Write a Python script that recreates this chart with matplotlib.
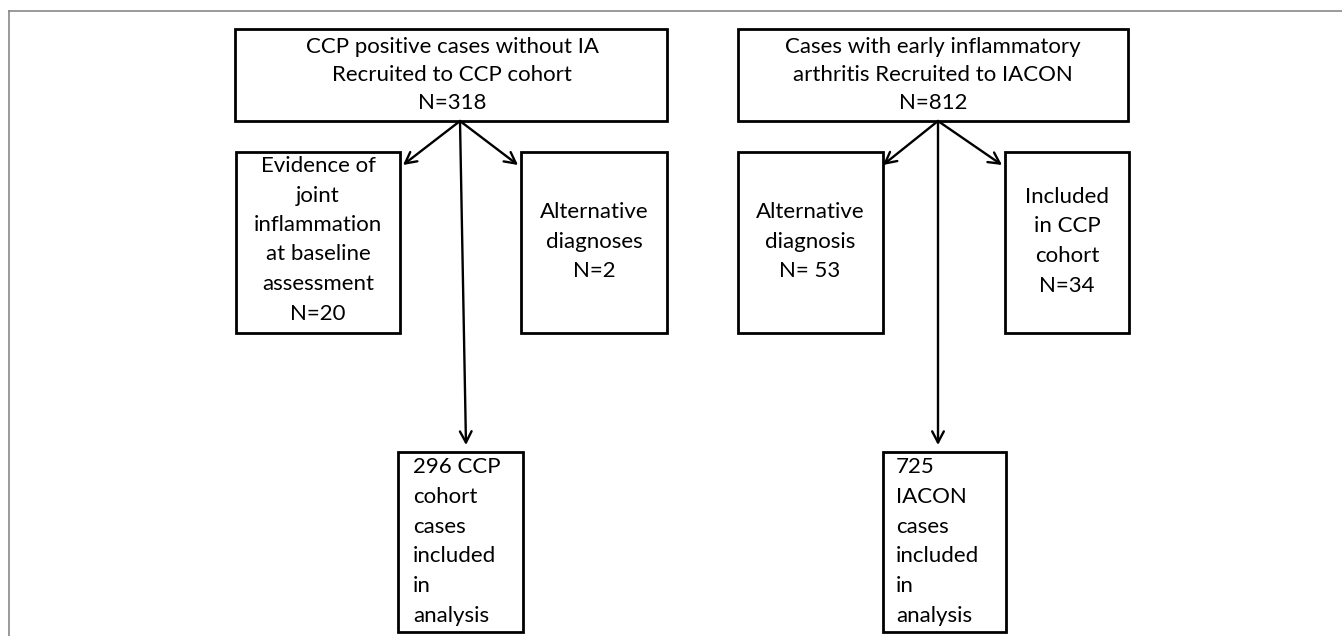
import matplotlib.pyplot as plt
from matplotlib.patches import Rectangle

# box texts
top_left = ["CCP positive cases without IA", "Recruited to CCP cohort", "N=318"]
top_right = ["Cases with early inflammatory", "arthritis Recruited to IACON", "N=812"]
side_left_a = ["Evidence of", "joint", "inflammation", "at baseline", "assessment", "N=20"]
side_left_b = ["Alternative", "diagnoses", "N=2"]
side_right_a = ["Alternative", "diagnosis", "N= 53"]
side_right_b = ["Included", "in CCP", "cohort", "N=34"]
final_left = ["296 CCP", "cohort", "cases", "included", "in", "analysis"]
final_right = ["725", "IACON", "cases", "included", "in", "analysis"]

W, H = 1342, 636
FS = 16
FONT = ["Lato", "DejaVu Sans"]

fig = plt.figure(figsize=(W / 100, H / 100), dpi=100)
ax = fig.add_axes([0, 0, 1, 1])
ax.set_xlim(0, W)
ax.set_ylim(H, 0)
ax.axis('off')

# outer frame of the figure panel
ax.plot([9, W], [11, 11], color='#7f7f7f', lw=1.1)
ax.plot([9, 9], [11, H], color='#7f7f7f', lw=1.1)


def box(x0, y0, x1, y1):
    ax.add_patch(Rectangle((x0, y0), x1 - x0, y1 - y0, fill=False,
                           edgecolor='black', lw=2.0))


def centre_text(lines, cx, y0, step=29.5):
    for i, s in enumerate(lines):
        ax.text(cx, y0 + i * step, s, ha='center', va='center',
                fontsize=FS, family=FONT)


def left_text(lines, x, y0, step=29.8):
    for i, s in enumerate(lines):
        ax.text(x, y0 + i * step, s, ha='left', va='center',
                fontsize=FS, family=FONT)


def arrow(x0, y0, x1, y1):
    ax.annotate('', xy=(x1, y1), xytext=(x0, y0),
                arrowprops=dict(arrowstyle='->,head_length=0.8,head_width=0.42',
                                lw=1.7, color='black', shrinkA=0, shrinkB=0))


# left column
box(235, 29, 667, 121)
centre_text(top_left, 452, 47, 28)
box(236, 152, 400, 333)
centre_text(side_left_a, 318, 166)
box(521, 152, 667, 333)
centre_text(side_left_b, 594, 212)
box(398, 452, 523, 632)
left_text(final_left, 413, 467)
arrow(460, 121, 403, 165)
arrow(460, 121, 518, 165)
arrow(460, 121, 466, 445)

# right column
box(738, 29, 1128, 121)
centre_text(top_right, 933, 47, 28)
box(738, 152, 883, 333)
centre_text(side_right_a, 810, 212)
box(1005, 152, 1129, 333)
centre_text(side_right_b, 1067, 197)
box(883, 452, 1006, 632)
left_text(final_right, 896, 467)
arrow(938, 121, 883, 165)
arrow(938, 121, 1002, 165)
arrow(938, 121, 938, 445)

fig.savefig('out.png', dpi=100, facecolor='white')
